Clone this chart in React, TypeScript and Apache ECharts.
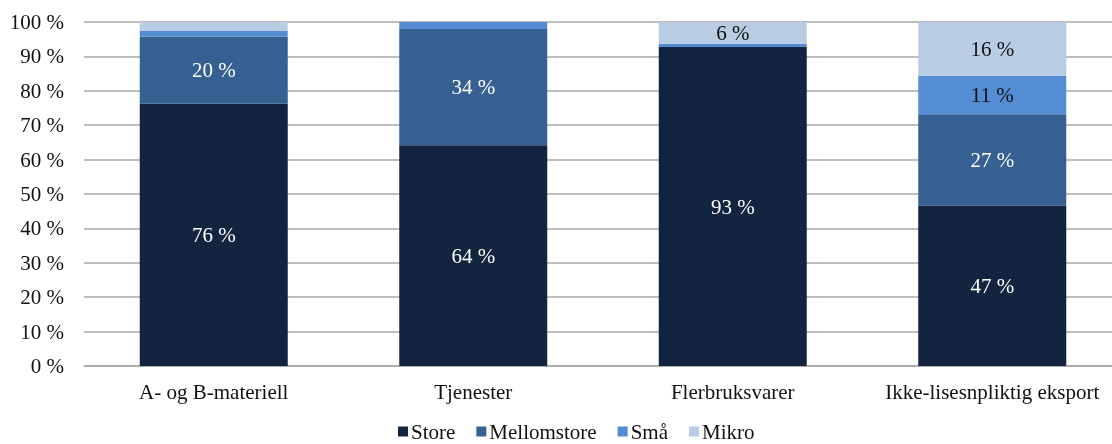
import React, { useEffect, useRef } from "react";
import * as echarts from "echarts";

const categories = ["A- og B-materiell", "Tjenester", "Flerbruksvarer", "Ikke-lisesnpliktig eksport"];
const seriesNames = ["Store", "Mellomstore", "Små", "Mikro"];
const store = [76.2, 64.2, 92.7, 46.6];
const mellomstore = [19.6, 33.8, 0, 26.6];
const sma = [1.6, 2.0, 1.0, 11.2];
const mikro = [2.6, 0, 6.3, 15.6];
const yTicks = [0, 10, 20, 30, 40, 50, 60, 70, 80, 90, 100];

const colors = ["#12243F", "#366092", "#548DD4", "#B8CCE4"];
const labelColors = ["#FFFFFF", "#FFFFFF", "#111111", "#111111"];
const FONT = "'Liberation Serif', 'Times New Roman', serif";

export default function App() {
  const ref = useRef<HTMLDivElement>(null);
  useEffect(() => {
    if (!ref.current) return;
    const chart = echarts.init(ref.current, null, { renderer: "svg" });
    const datasets = [store, mellomstore, sma, mikro];
    chart.setOption({
      animation: false,
      textStyle: { fontFamily: FONT },
      grid: { left: 84, top: 22, width: 1038, height: 344, containLabel: false },
      legend: {
        bottom: -3,
        left: 393,
        itemWidth: 10,
        itemHeight: 10,
        itemGap: 21,
        icon: "rect",
        textStyle: { fontFamily: FONT, fontSize: 21, color: "#111", padding: [0, 0, 0, -2] },
        data: seriesNames,
      },
      xAxis: {
        type: "category",
        data: categories,
        axisTick: { show: false },
        axisLine: { lineStyle: { color: "#A8A8A8", width: 1.5 } },
        axisLabel: { fontFamily: FONT, fontSize: 21, color: "#111", margin: 15, interval: 0 },
      },
      yAxis: {
        type: "value",
        min: yTicks[0],
        max: yTicks[yTicks.length - 1],
        interval: 10,
        axisLine: { show: false },
        axisTick: { show: false },
        splitLine: { lineStyle: { color: "#A8A8A8", width: 1.5 } },
        axisLabel: { fontFamily: FONT, fontSize: 21, color: "#111", margin: 20, formatter: "{value} %" },
      },
      series: seriesNames.map((name, i) => ({
        name,
        type: "bar",
        stack: "total",
        barWidth: 148,
        data: datasets[i],
        itemStyle: { color: colors[i] },
        label: {
          show: true,
          position: "inside",
          fontFamily: FONT,
          fontSize: 21,
          color: labelColors[i],
          formatter: (p: any) => (p.value >= 5 ? `${Math.round(p.value)} %` : ""),
        },
      })),
    });
    return () => chart.dispose();
  }, []);
  return (
    <div style={{ position: "fixed", left: 0, top: 0, width: 1112, height: 444, overflow: "hidden" }}>
      <div ref={ref} style={{ width: 1122, height: 444 }} />
    </div>
  );
}
